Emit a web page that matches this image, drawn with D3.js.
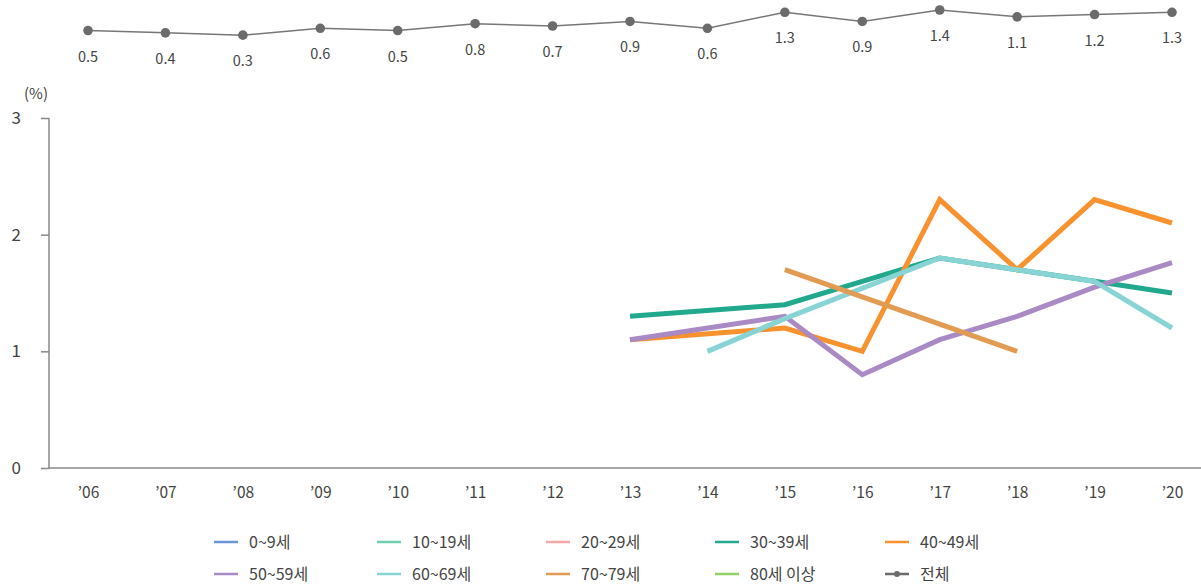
<!DOCTYPE html>
<html><head><meta charset="utf-8">
<script src="https://cdn.jsdelivr.net/npm/d3@7"></script>
<style>
html,body{margin:0;padding:0;background:#fff;}
text{font-family:"Noto Sans CJK KR","Noto Sans",sans-serif;}
</style></head>
<body>
<svg id="chart" width="1201" height="587"></svg>
<script>
const years = ["06","07","08","09","10","11","12","13","14","15","16","17","18","19","20"];
const yTicks = [0,1,2,3];
const totalValues = [0.5,0.4,0.3,0.6,0.5,0.8,0.7,0.9,0.6,1.3,0.9,1.4,1.1,1.2,1.3];
const age30s = [null,null,null,null,null,null,null,1.3,null,1.4,1.6,1.8,1.7,1.6,1.5];
const age40s = [null,null,null,null,null,null,null,1.1,null,1.2,1.0,2.3,1.7,2.3,2.1];
const age50s = [null,null,null,null,null,null,null,1.1,null,1.3,0.8,1.1,1.3,1.55,1.76];
const age60s = [null,null,null,null,null,null,null,null,1.0,1.28,null,1.8,1.7,1.6,1.2];
const age70s = [null,null,null,null,null,null,null,null,null,1.7,null,null,1.0,null,null];
const seriesNames = ["0~9세","10~19세","20~29세","30~39세","40~49세","50~59세","60~69세","70~79세","80세 이상","전체"];
const seriesColors = ["#6b94d6","#6fd0b0","#f6a7a7","#22a88c","#f7922f","#a98ac4","#88d4d4","#e29b52","#92d063","#6b6b6b"];
const plotted = [
  {name:"30~39세", values:age30s},
  {name:"40~49세", values:age40s},
  {name:"50~59세", values:age50s},
  {name:"60~69세", values:age60s},
  {name:"70~79세", values:age70s}
];

const svg = d3.select("#chart");
const color = d3.scaleOrdinal().domain(seriesNames).range(seriesColors);
const x = d3.scalePoint().domain(years).range([88, 1172]);
const y = d3.scaleLinear().domain([0,3]).range([468,118]);
const yTop = d3.scaleLinear().domain([0,1.4]).range([42,10]);
const textColor = "#444";

// Axes
const yAxis = svg.append("g").attr("transform","translate(49,0)")
  .call(d3.axisLeft(y).tickValues(yTicks).tickSize(8).tickPadding(20).tickFormat(d3.format("d")));
yAxis.select(".domain").remove();
yAxis.selectAll(".tick line").attr("stroke","#888").attr("stroke-width",1.5);
yAxis.selectAll(".tick text").attr("fill",textColor).style("font-size","17px");
svg.append("line").attr("x1",49).attr("x2",49).attr("y1",y(3)).attr("y2",y(0)+0.75)
  .attr("stroke","#888").attr("stroke-width",1.5);
svg.append("line").attr("x1",49).attr("x2",1201).attr("y1",y(0)).attr("y2",y(0))
  .attr("stroke","#888").attr("stroke-width",1.5);
svg.append("text").attr("x",36).attr("y",99).attr("text-anchor","middle")
  .attr("fill",textColor).style("font-size","15px").text("(%)");

const xAxis = svg.append("g").attr("transform",`translate(0,${y(0)})`)
  .call(d3.axisBottom(x).tickSize(0).tickPadding(19).tickFormat(d => "\u2019" + d));
xAxis.select(".domain").remove();
xAxis.selectAll(".tick text").attr("fill",textColor).style("font-size","15.5px");

// Age group lines
const line = d3.line().x(d => x(d.year)).y(d => y(d.v));
plotted.forEach(s => {
  const pts = years.map((yr,i) => ({year:yr, v:s.values[i]})).filter(d => d.v != null);
  svg.append("path").datum(pts).attr("d",line).attr("fill","none")
    .attr("stroke",color(s.name)).attr("stroke-width",5)
    .attr("stroke-linejoin","miter").attr("stroke-linecap","butt");
});

// Total line at top
const totPts = years.map((yr,i) => ({year:yr, v:totalValues[i]}));
const topLine = d3.line().x(d => x(d.year)).y(d => yTop(d.v));
svg.append("path").datum(totPts).attr("d",topLine).attr("fill","none")
  .attr("stroke","#777").attr("stroke-width",1.5);
svg.selectAll(".dot").data(totPts).enter().append("circle")
  .attr("cx",d => x(d.year)).attr("cy",d => yTop(d.v)).attr("r",4.8).attr("fill","#6b6b6b");
svg.selectAll(".lbl").data(totPts).enter().append("text")
  .attr("x",d => x(d.year)).attr("y",d => yTop(d.v) + 31).attr("text-anchor","middle")
  .attr("fill",textColor).style("font-size","14.5px").text(d => d.v.toFixed(1));

// Legend
const legendCols = [214, 377, 546, 715, 885];
const legendRows = [542, 574];
seriesNames.forEach((name,i) => {
  const g = svg.append("g").attr("transform",`translate(${legendCols[i%5]},${legendRows[Math.floor(i/5)]})`);
  g.append("line").attr("x1",0).attr("x2",24).attr("y1",0).attr("y2",0)
    .attr("stroke",color(name)).attr("stroke-width",2.5);
  if (name === "전체") g.append("circle").attr("cx",12).attr("cy",0).attr("r",3).attr("fill",color(name));
  g.append("text").attr("x",35).attr("y",0).attr("dy","0.35em")
    .attr("fill",textColor).style("font-size","16px").text(name);
});
</script>
</body></html>
